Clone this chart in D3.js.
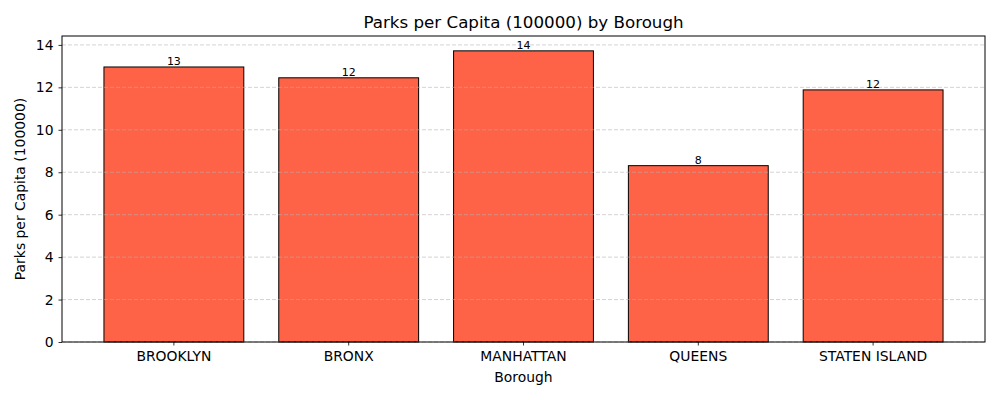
<!DOCTYPE html>
<html>
<head>
<meta charset="utf-8">
<script src="https://cdn.jsdelivr.net/npm/d3@7"></script>
<style>
  body { margin: 0; background: #fff; }
  svg text { font-family: "DejaVu Sans", sans-serif; fill: #000; }
</style>
</head>
<body>
<div id="chart"></div>
<script>
// Données
const boroughs = ["BROOKLYN", "BRONX", "MANHATTAN", "QUEENS", "STATEN ISLAND"];
const parksPerCapita = [12.96, 12.45, 13.72, 8.31, 11.88];
const yTicks = [0, 2, 4, 6, 8, 10, 12, 14];

const margin = { top: 36, right: 15, bottom: 58, left: 62 };
const width = 1000 - margin.left - margin.right;
const height = 400 - margin.top - margin.bottom;

const svg = d3.select("#chart")
    .append("svg")
    .attr("width", 1000)
    .attr("height", 400);

const g = svg.append("g")
    .attr("transform", "translate(" + margin.left + "," + margin.top + ")");

// Echelles
const xScale = d3.scaleBand()
    .domain(boroughs)
    .range([0, width])
    .paddingInner(0.2)
    .paddingOuter(0.24);

const yScale = d3.scaleLinear()
    .domain([0, 14.42])
    .range([height, 0]);

// Barres
g.selectAll(".bar")
    .data(boroughs)
    .enter().append("rect")
    .attr("class", "bar")
    .attr("x", d => xScale(d))
    .attr("width", xScale.bandwidth())
    .attr("y", (d, i) => yScale(parksPerCapita[i]))
    .attr("height", (d, i) => height - yScale(parksPerCapita[i]))
    .attr("fill", "#ff6347")
    .attr("stroke", "#000")
    .attr("stroke-width", 1);

// Grille (au-dessus des barres, comme matplotlib)
g.selectAll(".grid")
    .data(yTicks)
    .enter().append("line")
    .attr("x1", 0)
    .attr("x2", width)
    .attr("y1", d => yScale(d))
    .attr("y2", d => yScale(d))
    .attr("stroke", "#b0b0b0")
    .attr("stroke-opacity", 0.7)
    .attr("stroke-dasharray", "4,2")
    .attr("stroke-width", 0.8);

// Etiquettes des barres
g.selectAll(".label")
    .data(boroughs)
    .enter().append("text")
    .attr("x", d => xScale(d) + xScale.bandwidth() / 2)
    .attr("y", (d, i) => yScale(parksPerCapita[i]) - 2)
    .attr("text-anchor", "middle")
    .style("font-size", "11px")
    .text((d, i) => Math.round(parksPerCapita[i]));

// Axe des x
const xAxis = g.append("g")
    .attr("transform", "translate(0," + height + ")")
    .call(d3.axisBottom(xScale).tickSizeOuter(0).tickSize(3.5).tickPadding(6));
xAxis.selectAll("text").style("font-size", "13.9px");

// Axe des y
const yAxis = g.append("g")
    .call(d3.axisLeft(yScale).tickValues(yTicks).tickSizeOuter(0).tickSize(3.5).tickPadding(5));
yAxis.selectAll("text").style("font-size", "13.9px");

[xAxis, yAxis].forEach(a => {
    a.select(".domain").remove();
    a.selectAll("line").attr("stroke", "#000").attr("stroke-width", 0.8);
});

// Cadre
g.append("rect")
    .attr("width", width)
    .attr("height", height)
    .attr("fill", "none")
    .attr("stroke", "#000")
    .attr("stroke-width", 1);

// Titre
svg.append("text")
    .attr("x", margin.left + width / 2)
    .attr("y", 28)
    .attr("text-anchor", "middle")
    .style("font-size", "16.7px")
    .text("Parks per Capita (100000) by Borough");

// Titres des axes
svg.append("text")
    .attr("x", margin.left + width / 2)
    .attr("y", 382)
    .attr("text-anchor", "middle")
    .style("font-size", "13.9px")
    .text("Borough");

svg.append("text")
    .attr("transform", "translate(25," + (margin.top + height / 2) + ") rotate(-90)")
    .attr("text-anchor", "middle")
    .style("font-size", "13.9px")
    .text("Parks per Capita (100000)");
</script>
</body>
</html>
